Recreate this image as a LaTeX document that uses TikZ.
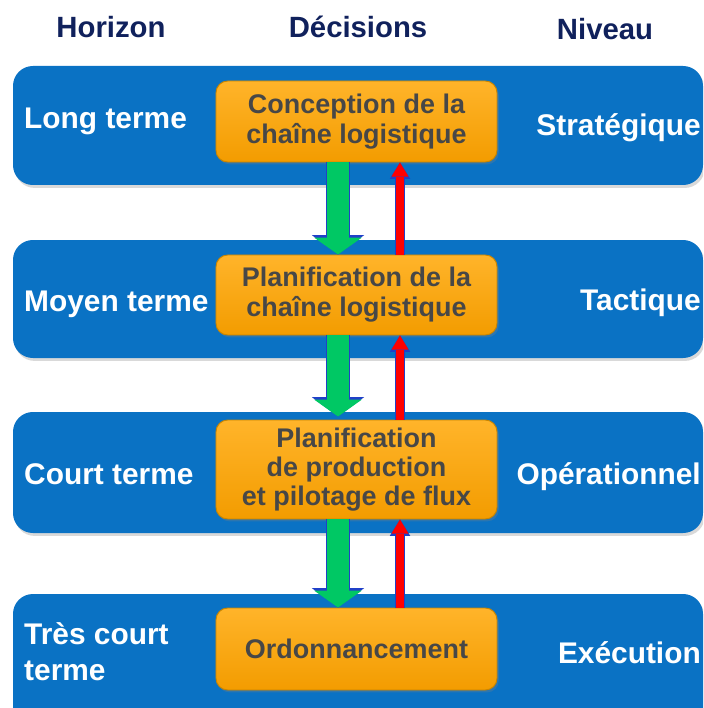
\documentclass[tikz,border=0pt]{standalone}
\usepackage{fontspec}
\setmainfont{Liberation Sans}
\usetikzlibrary{arrows.meta,calc,shadows}

\definecolor{bandeBleue}{HTML}{0A72C4}
\definecolor{titreBleu}{HTML}{10215C}
\definecolor{boiteClair}{HTML}{FFB42A}
\definecolor{boiteOrange}{HTML}{F39C00}
\definecolor{boiteBord}{HTML}{C98500}
\definecolor{texteGris}{HTML}{474747}
\definecolor{flecheVerte}{HTML}{00C864}
\definecolor{flecheRouge}{HTML}{FF0000}
\definecolor{flecheBord}{HTML}{2040C8}

\tikzset{
  bande/.style={rounded corners=17pt, fill=bandeBleue,
    drop shadow={opacity=0.3, shadow xshift=1.5pt, shadow yshift=-2.5pt}},
  decision/.style={draw=boiteBord, line width=0.8pt, rounded corners=10pt,
    top color=boiteClair, bottom color=boiteOrange,
    minimum width=8.43cm, align=center, text=texteGris,
    font=\bfseries\fontsize{23}{25.5}\selectfont,
    drop shadow={opacity=0.3, shadow xshift=1.5pt, shadow yshift=-2pt}},
  titre/.style={anchor=base, inner sep=0pt, text=titreBleu,
    font=\bfseries\fontsize{25}{30}\selectfont},
  horizon/.style={inner sep=0pt, text=white, align=left,
    font=\bfseries\fontsize{25.5}{30.6}\selectfont},
  niveau/.style={anchor=base east, inner sep=0pt, text=white,
    font=\bfseries\fontsize{25.5}{30.6}\selectfont},
  descente/.style={draw=flecheVerte, line width=18.7pt,
    -{Triangle[width=40.8pt, length=14.5pt, line width=0pt]},
    preaction={draw=flecheBord, line width=21.3pt,
      -{Triangle[width=44.5pt, length=16.5pt, line width=0pt]}}},
  remontee/.style={draw=flecheRouge, line width=6pt,
    -{Triangle[width=14.5pt, length=12pt, line width=0pt]},
    preaction={draw=flecheBord, line width=8.3pt,
      -{Triangle[width=17.5pt, length=14pt, line width=0pt]}}}
}

\begin{document}
\begin{tikzpicture}[x=0.03cm, y=-0.03cm]
  \useasboundingbox (0,0) rectangle (703,708);
  \clip (0,0) rectangle (703,708);

  % bandes d'horizon
  \path[bande] (13,66) rectangle (703,185);
  \path[bande] (13,240) rectangle (703,358);
  \path[bande] (13,412) rectangle (703,533);
  \path[bande] (13,594) rectangle (703,740);

  % en-tetes
  \node[titre] (tHorizon) at (111,38) {Horizon};
  \node[titre] (tDecisions) at (358,38) {Décisions};
  \node[titre] (tNiveau) at (605,40) {Niveau};

  % horizons
  \node[horizon, anchor=base west] (hLong) at (24,129) {Long terme};
  \node[horizon, anchor=base west] (hMoyen) at (24,311) {Moyen terme};
  \node[horizon, anchor=base west] (hCourt) at (24,484) {Court terme};
  \node[horizon, anchor=west] (hTres) at (24,652) {Très court\\terme};

  % niveaux
  \node[niveau] (nStrat) at (701,136) {Stratégique};
  \node[niveau] (nTact) at (701,310) {Tactique};
  \node[niveau] (nOper) at (701,484) {Opérationnel};
  \node[niveau] (nExec) at (701,663) {Exécution};

  % decisions
  \node[decision, minimum height=2.43cm] (d1) at (356.5,121.5) {Conception de la\\chaîne logistique};
  \node[decision, minimum height=2.4cm] (d2) at (356.5,295) {Planification de la\\chaîne logistique};
  \node[decision, minimum height=2.97cm, font=\bfseries\fontsize{23}{24.6}\selectfont] (d3) at (356.5,469.5) {Planification\\de production\\et pilotage de flux};
  \node[decision, minimum height=2.46cm] (d4) at (356.5,649) {Ordonnancement};

  % fleches
  \draw[descente] ($(d1.south)+(-18.5,0)$) -- ($(d2.north)+(-18.5,0)$);
  \draw[descente] ($(d2.south)+(-18.5,0)$) -- ($(d3.north)+(-18.5,-3)$);
  \draw[descente] ($(d3.south)+(-18.5,0)$) -- ($(d4.north)+(-18.5,0)$);
  \draw[remontee] ($(d2.north)+(43.5,0)$) -- ($(d1.south)+(43.5,0)$);
  \draw[remontee] ($(d3.north)+(43.5,0)$) -- ($(d2.south)+(43.5,0)$);
  \draw[remontee] ($(d4.north)+(43.5,0)$) -- ($(d3.south)+(43.5,0)$);
\end{tikzpicture}
\end{document}
